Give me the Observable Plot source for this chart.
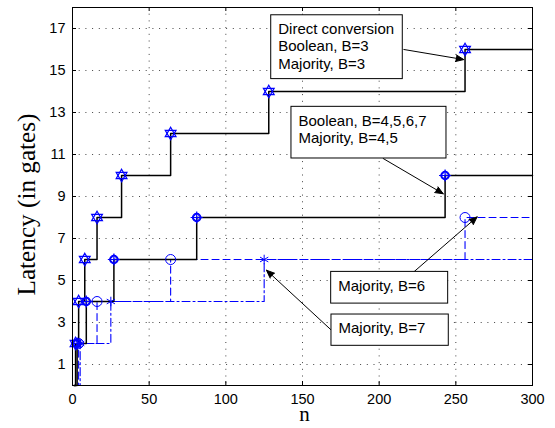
<!DOCTYPE html>
<html><head><meta charset="utf-8">
<script src="https://cdn.jsdelivr.net/npm/d3@7"></script>
<script src="https://cdn.jsdelivr.net/npm/@observablehq/plot@0.6"></script>
<style>body{margin:0;background:#fff}</style>
</head><body><div id="chart"></div>
<script>
// ---- data ----
const xTicks = [0, 50, 100, 150, 200, 250, 300];
const yTicks = [1, 3, 5, 7, 9, 11, 13, 15, 17];
const nMax = 300;
const latMax = 18;

// Direct conversion / Boolean B=3 / Majority B=3
const nB3 = [1, 2, 4, 8, 16, 32, 64, 128, 256];
const latB3 = [0, 2, 4, 6, 8, 10, 12, 14, 16];
// Boolean B=4,5,6,7 / Majority B=4,5
const nB45 = [1, 3, 9, 27, 81, 243];
const latB45 = [0, 2, 4, 6, 8, 10];
// Majority B=6
const nB6 = [1, 4, 16, 64, 256];
const latB6 = [0, 2, 4, 6, 8];
// Majority B=7
const nB7 = [1, 5, 25, 125];
const latB7 = [0, 2, 4, 6];

// annotations (data units)
const annoText = [
  "Direct conversion\nBoolean, B=3\nMajority, B=3",
  "Boolean, B=4,5,6,7\nMajority, B=4,5",
  "Majority, B=6",
  "Majority, B=7"
];
const annoBoxN1 = [129.6, 142.8, 168.7, 168.9];
const annoBoxN2 = [215.4, 243.9, 245.0, 245.4];
const annoBoxTop = [17.63, 13.27, 5.41, 3.38];
const annoBoxBottom = [14.59, 10.81, 3.90, 1.89];
const arrowFromN = [216.1, 202.6, 222.6, 168.9];
const arrowFromLat = [16.0, 10.81, 5.41, 2.63];
const arrowToN = [255.2, 241.8, 263.9, 126.5];
const arrowToLat = [15.52, 9.13, 8.03, 5.49];

const yLabel = "Latency (in gates)";
const xLabel = "n";

// ---- build tables ----
function stairs(ns, lats) {
  const rows = ns.map((n, i) => ({n, lat: lats[i], marker: lats[i] > 0}));
  rows.push({n: nMax, lat: lats[lats.length - 1], marker: false});
  return rows;
}
const sB3 = stairs(nB3, latB3);
const sB45 = stairs(nB45, latB45);
const sB6 = stairs(nB6, latB6);
const sB7 = stairs(nB7, latB7);
const mk = (rows) => rows.filter(d => d.marker);

const boxes = annoText.map((t, i) => ({
  text: t, x1: annoBoxN1[i], x2: annoBoxN2[i], y1: annoBoxBottom[i], y2: annoBoxTop[i]
}));
const arrows = arrowFromN.map((n, i) => ({
  x1: n, y1: arrowFromLat[i], x2: arrowToN[i], y2: arrowToLat[i]
}));

const blue = "#0000ff";
const serif = "Liberation Serif";

const plot = Plot.plot({
  width: 555,
  height: 428,
  marginLeft: 72,
  marginRight: 23,
  marginTop: 7,
  marginBottom: 43,
  x: {domain: [0, nMax]},
  y: {domain: [0, latMax]},
  style: {fontFamily: "Liberation Sans, Arial, sans-serif", background: "white", color: "black"},
  marks: [
    Plot.gridX(xTicks.slice(1, -1), {stroke: "#444", strokeOpacity: 1, strokeDasharray: "1,5.7"}),
    Plot.gridY(yTicks, {stroke: "#444", strokeOpacity: 1, strokeDasharray: "1,5.7"}),
    // inward ticks
    Plot.tickX(xTicks, {x: d => d, insetTop: 374, stroke: "black"}),
    Plot.tickX(xTicks, {x: d => d, insetBottom: 374, stroke: "black"}),
    Plot.tickY(yTicks, {y: d => d, insetRight: 456, stroke: "black"}),
    Plot.tickY(yTicks, {y: d => d, insetLeft: 456, stroke: "black"}),
    Plot.axisX(xTicks, {tickSize: 0, tickPadding: 8, fontSize: 14.5, label: null}),
    Plot.axisY(yTicks, {tickSize: 0, tickPadding: 7, fontSize: 14.5, label: null}),
    // series lines
    Plot.line(sB6, {x: "n", y: "lat", curve: "step-after", stroke: blue, strokeWidth: 1.1, strokeDasharray: "7,4"}),
    Plot.line(sB7, {x: "n", y: "lat", curve: "step-after", stroke: blue, strokeWidth: 1.1, strokeDasharray: "8,3,2,3"}),
    Plot.line(sB3, {x: "n", y: "lat", curve: "step-after", stroke: "black", strokeWidth: 1.5}),
    Plot.line(sB45, {x: "n", y: "lat", curve: "step-after", stroke: "black", strokeWidth: 1.5}),
    // markers
    Plot.dot(mk(sB3), {x: "n", y: "lat", symbol: "triangle", r: 4, stroke: blue, strokeWidth: 1.2}),
    Plot.dot(mk(sB3), {x: "n", y: "lat", symbol: "triangle", rotate: 180, r: 4, stroke: blue, strokeWidth: 1.2}),
    Plot.dot(mk(sB45), {x: "n", y: "lat", symbol: "circle", r: 4, stroke: blue, strokeWidth: 1.5}),
    Plot.dot(mk(sB45), {x: "n", y: "lat", symbol: "diamond2", r: 4, stroke: blue, strokeWidth: 1.2}),
    Plot.dot(mk(sB45), {x: "n", y: "lat", symbol: "plus", r: 4, stroke: blue, strokeWidth: 1.2}),
    Plot.dot(mk(sB6), {x: "n", y: "lat", symbol: "circle", r: 5, stroke: blue, strokeWidth: 1}),
    Plot.dot(mk(sB7), {x: "n", y: "lat", symbol: "asterisk", r: 4.5, stroke: blue, strokeWidth: 1}),
    // frame
    Plot.frame({stroke: "black", strokeWidth: 1}),
    // annotations
    Plot.arrow(arrows, {x1: "x1", y1: "y1", x2: "x2", y2: "y2", stroke: "black", fill: "black", strokeWidth: 1, headLength: 13, headAngle: 45}),
    Plot.rect(boxes, {x1: "x1", x2: "x2", y1: "y1", y2: "y2", fill: "white", stroke: "black", strokeWidth: 1}),
    Plot.text(boxes, {x: "x1", y: "y2", text: "text", textAnchor: "start", lineAnchor: "top", dx: 7, dy: 6.7, fontSize: 15, lineHeight: 1.15, fill: "black"}),
    // axis labels
    Plot.text([yLabel], {frameAnchor: "left", textAnchor: "middle", lineAnchor: "middle", dx: -46, dy: 8, rotate: -90, fontFamily: serif, fontSize: 22, fill: "black", fontWeight: "normal"}),
    Plot.text([xLabel], {frameAnchor: "bottom", textAnchor: "middle", lineAnchor: "middle", dx: 2, dy: 29, fontFamily: serif, fontSize: 21, fill: "black", fontWeight: "normal"})
  ]
});
document.getElementById("chart").appendChild(plot);

// fit the y label length to the reference (~182px)
d3.select(plot).selectAll("text").each(function() {
  if (this.textContent === yLabel) {
    const len = this.getComputedTextLength();
    if (len > 0) this.setAttribute("font-size", (22 * 182 / len).toFixed(2));
  }
});
</script>
</body></html>
